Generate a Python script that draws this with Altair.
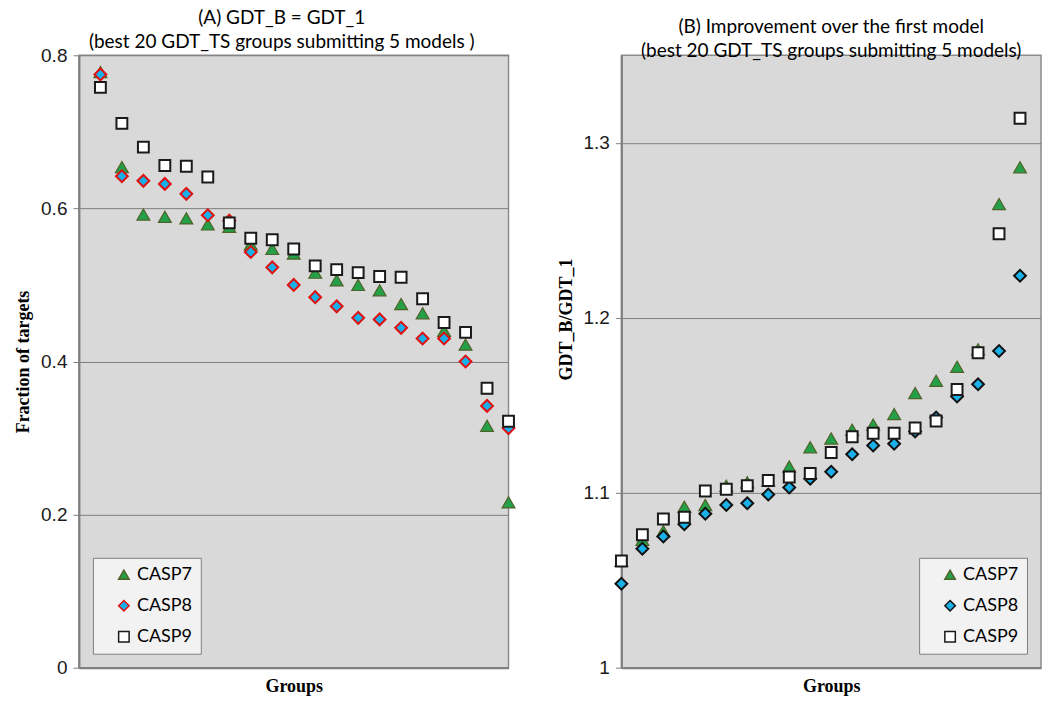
import altair as alt
import pandas as pd

series_names = ["CASP7", "CASP8", "CASP9"]
groups = list(range(20))

# Panel A: fraction of targets with GDT_B = GDT_1
a_casp7 = [0.778, 0.654, 0.592, 0.589, 0.587, 0.579, 0.576, 0.553, 0.547, 0.541,
           0.516, 0.506, 0.500, 0.493, 0.475, 0.463, 0.440, 0.422, 0.316, 0.216]
a_casp8 = [0.775, 0.642, 0.636, 0.632, 0.619, 0.591, 0.584, 0.543, 0.523, 0.500,
           0.484, 0.472, 0.457, 0.455, 0.444, 0.430, 0.430, 0.400, 0.342, 0.313]
a_casp9 = [0.758, 0.711, 0.680, 0.656, 0.655, 0.641, 0.581, 0.561, 0.559, 0.547,
           0.525, 0.520, 0.516, 0.511, 0.510, 0.482, 0.451, 0.438, 0.365, 0.322]

# Panel B: GDT_B / GDT_1
b_casp7 = [1.061, 1.073, 1.078, 1.092, 1.093, 1.104, 1.106, 1.107, 1.115, 1.126,
           1.131, 1.136, 1.139, 1.145, 1.157, 1.164, 1.172, 1.182, 1.265, 1.286]
b_casp8 = [1.048, 1.068, 1.075, 1.082, 1.088, 1.093, 1.094, 1.099, 1.103, 1.108,
           1.112, 1.122, 1.127, 1.128, 1.135, 1.143, 1.155, 1.162, 1.181, 1.224]
b_casp9 = [1.061, 1.076, 1.085, 1.086, 1.101, 1.102, 1.104, 1.107, 1.109, 1.111,
           1.123, 1.132, 1.134, 1.134, 1.137, 1.141, 1.159, 1.180, 1.248, 1.314]

a_ticks = [0, 0.2, 0.4, 0.6, 0.8]
b_ticks = [1.0, 1.1, 1.2, 1.3]

marker_sizes = {"CASP7": 165, "CASP8": 140, "CASP9": 118}
marker_strokes = {"CASP7": 1.2, "CASP8": 2.0, "CASP9": 2.0}


def frame(vals_by_series):
    rows = []
    for s, vals in zip(series_names, vals_by_series):
        for g, v in zip(groups, vals):
            rows.append({"group": g, "series": s, "value": v})
    return pd.DataFrame(rows)


df_a = frame([a_casp7, a_casp8, a_casp9])
df_b = frame([b_casp7, b_casp8, b_casp9])

LABEL_FONT = "Liberation Sans"
TITLE_FONT = "Lato"
SERIF = "Liberation Serif"


def panel(df, xdomain, ydomain, yticks, ytitle, title_lines, fills, strokes,
          legend_orient, width, ytitle_y=None, title_dx=0):
    legend = alt.Legend(
        title=None, orient=legend_orient, offset=14,
        fillColor="#f2f2f2", strokeColor="#7f7f7f", padding=8,
        labelFont=TITLE_FONT, labelFontSize=18, labelColor="#000000",
        symbolSize=110, symbolStrokeWidth=1.5, symbolOffset=14,
        labelOffset=4, rowPadding=13,
    )
    yaxis_kwargs = dict(
        values=yticks, title=ytitle, titleFont=SERIF, titleFontSize=18,
        titleFontWeight="bold", titleColor="#000000", titlePadding=8,
        labelFont=LABEL_FONT, labelFontSize=19, labelColor="#1a1a1a",
        labelPadding=6, tickSize=6, tickColor="#808080", domainColor="#7f7f7f",
        domainWidth=2, grid=True, gridColor="#808080", gridWidth=1,
        labelExpr="datum.value == 0 ? '0' : (datum.value == 1 ? '1' : format(datum.value, '.1f'))",
    )
    if ytitle_y is not None:
        yaxis_kwargs["titleY"] = ytitle_y
    enc = dict(
        x=alt.X("group:Q", scale=alt.Scale(domain=xdomain, nice=False, zero=False),
                axis=alt.Axis(title="Groups", titleFont=SERIF, titleFontSize=18,
                              titleFontWeight="bold", titleColor="#000000",
                              labels=False, ticks=False, grid=False,
                              domainColor="#7f7f7f", domainWidth=2, titlePadding=10)),
        y=alt.Y("value:Q", scale=alt.Scale(domain=ydomain, nice=False, zero=False),
                axis=alt.Axis(**yaxis_kwargs)),
        shape=alt.Shape("series:N", scale=alt.Scale(domain=series_names,
                        range=["triangle-up", "diamond", "square"]), legend=legend),
        fill=alt.Fill("series:N", scale=alt.Scale(domain=series_names, range=fills),
                      legend=legend),
        stroke=alt.Stroke("series:N", scale=alt.Scale(domain=series_names, range=strokes),
                          legend=legend),
    )
    layers = []
    for s in series_names:
        layers.append(
            alt.Chart(df).transform_filter(alt.datum.series == s).mark_point(
                filled=True, opacity=1, size=marker_sizes[s], strokeWidth=marker_strokes[s]
            ).encode(**enc)
        )
    chart = alt.layer(*layers).properties(
        width=width, height=613,
        title=alt.TitleParams(text=title_lines, font=TITLE_FONT, fontSize=19,
                              fontWeight="normal", color="#000000", anchor="middle",
                              lineHeight=24, offset=-6, dx=title_dx),
    )
    return chart


chart_a = panel(
    df_a, [-1, 19], [0, 0.8], a_ticks, "Fraction of targets",
    ["(A)  GDT_B = GDT_1", "(best 20 GDT_TS groups submitting 5 models )"],
    ["#23a048", "#17b0ea", "#ffffff"], ["#4f6228", "#e01010", "#1a1a1a"],
    "bottom-left", 430, title_dx=-12,
)
chart_b = panel(
    df_b, [0, 20], [1.0, 1.35], b_ticks, "GDT_B/GDT_1",
    ["(B)  Improvement over the first model", "(best 20 GDT_TS groups submitting 5 models)"],
    ["#23a048", "#1ab0e8", "#ffffff"], ["#4f6228", "#111111", "#1a1a1a"],
    "bottom-right", 420, ytitle_y=264,
)

chart = alt.hconcat(chart_a, chart_b, spacing=36).resolve_scale(
    shape="independent", fill="independent", stroke="independent",
).configure(
    padding={"left": 5, "top": 0, "right": 0, "bottom": 0},
    background="#ffffff",
    view=alt.ViewConfig(fill="#d9d9d9", stroke="#8c8c8c", strokeWidth=1.5),
)

chart.save("out.html", embed_options={"renderer": "svg", "actions": False})
